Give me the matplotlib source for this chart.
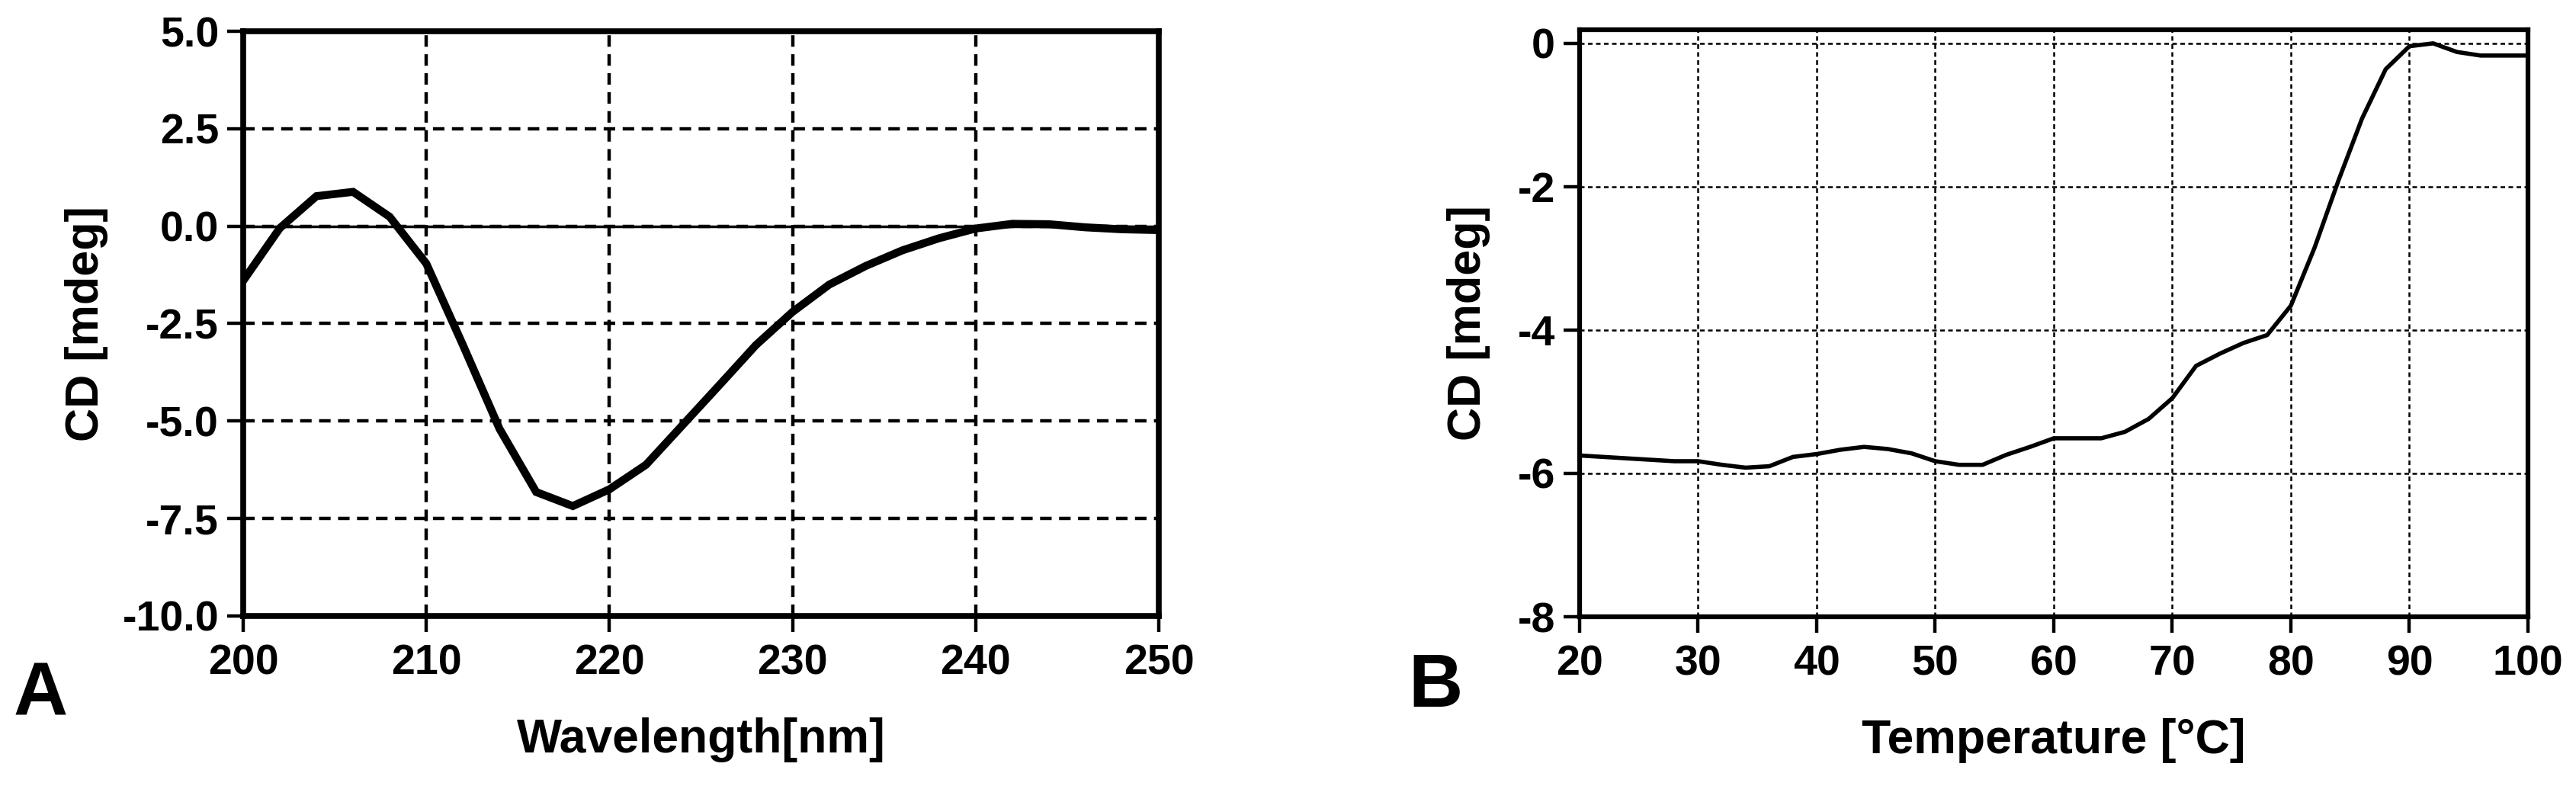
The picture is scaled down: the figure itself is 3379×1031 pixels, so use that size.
import numpy as np
import matplotlib.pyplot as plt

# Panel A: CD spectrum
wavelength = np.arange(200, 251, 2)
cd_spectrum = [-1.4, -0.05, 0.77, 0.88, 0.24, -0.96, -3.05, -5.2, -6.82, -7.18,
               -6.75, -6.12, -5.1, -4.08, -3.05, -2.2, -1.5, -1.02, -0.62, -0.31,
               -0.06, 0.06, 0.05, -0.03, -0.08, -0.1]

# Panel B: thermal melt
temperature = np.arange(20, 101, 2)
cd_melt = [-5.75, -5.77, -5.79, -5.81, -5.83, -5.83, -5.88, -5.92, -5.90, -5.77,
           -5.73, -5.67, -5.63, -5.66, -5.72, -5.83, -5.88, -5.88, -5.74, -5.63,
           -5.51, -5.51, -5.51, -5.42, -5.24, -4.95, -4.5, -4.33, -4.18, -4.07,
           -3.66, -2.85, -1.92, -1.05, -0.36, -0.04, 0.0, -0.12, -0.17, -0.17, -0.17]

a_xticks = np.arange(200, 251, 10)
a_yticks = np.arange(-10, 5.1, 2.5)
b_xticks = np.arange(20, 101, 10)
b_yticks = np.arange(-8, 0.1, 2)

plt.rcParams['font.family'] = ['Liberation Sans', 'DejaVu Sans']
plt.rcParams['font.weight'] = 'bold'

W, H = 3380, 1031
fig = plt.figure(figsize=(W / 100, H / 100), dpi=100)

def px_axes(l, t, r, b):
    return fig.add_axes([l / W, 1 - b / H, (r - l) / W, (b - t) / H])

def style(ax, spine_lw):
    for s in ax.spines.values():
        s.set_linewidth(spine_lw)
    ax.tick_params(direction='out', length=15, width=3.2, labelsize=40, pad=8)
    ax.tick_params(axis='x', pad=11)
    for lab in ax.get_xticklabels() + ax.get_yticklabels():
        lab.set_fontweight('bold')

# ---- A ----
axA = px_axes(319, 41, 1520, 808)
axA.plot(wavelength, cd_spectrum, color='black', lw=7.5, solid_joinstyle='miter', zorder=3)
axA.axhline(0, color='black', lw=2.5, zorder=2)
axA.set_xlim(200, 250)
axA.set_ylim(-10, 5)
axA.set_xticks(a_xticks)
axA.set_yticks(a_yticks)
axA.set_yticklabels([f'{v:.1f}' for v in a_yticks])
axA.grid(True, color='black', lw=3.2, linestyle=(0, (3.4, 2.2)))
style(axA, 5.5)
axA.set_xlabel('Wavelength[nm]', fontsize=45, fontweight='bold', labelpad=32)
axA.set_ylabel('CD [mdeg]', fontsize=44, fontweight='bold', labelpad=13)

# ---- B ----
axB = px_axes(2072, 39, 3316, 809)
axB.plot(temperature, cd_melt, color='black', lw=4, zorder=3)
axB.set_xlim(20, 100)
axB.set_ylim(-8, 0.19)
axB.set_xticks(b_xticks)
axB.set_yticks(b_yticks)
axB.set_yticklabels([f'{v:.0f}' for v in b_yticks])
axB.grid(True, color='black', lw=1.8, linestyle=(0, (2.4, 1.8)))
style(axB, 4.5)
axB.set_xlabel('Temperature [°C]', fontsize=45, fontweight='bold', labelpad=32)
axB.set_ylabel('CD [mdeg]', fontsize=44, fontweight='bold', labelpad=26)

fig.text(18 / W, 1 - 938 / H, 'A', fontsize=71, fontweight='bold', va='baseline')
fig.text(1847 / W, 1 - 927 / H, 'B', fontsize=71, fontweight='bold', va='baseline')

fig.savefig('out.png', dpi=100)
